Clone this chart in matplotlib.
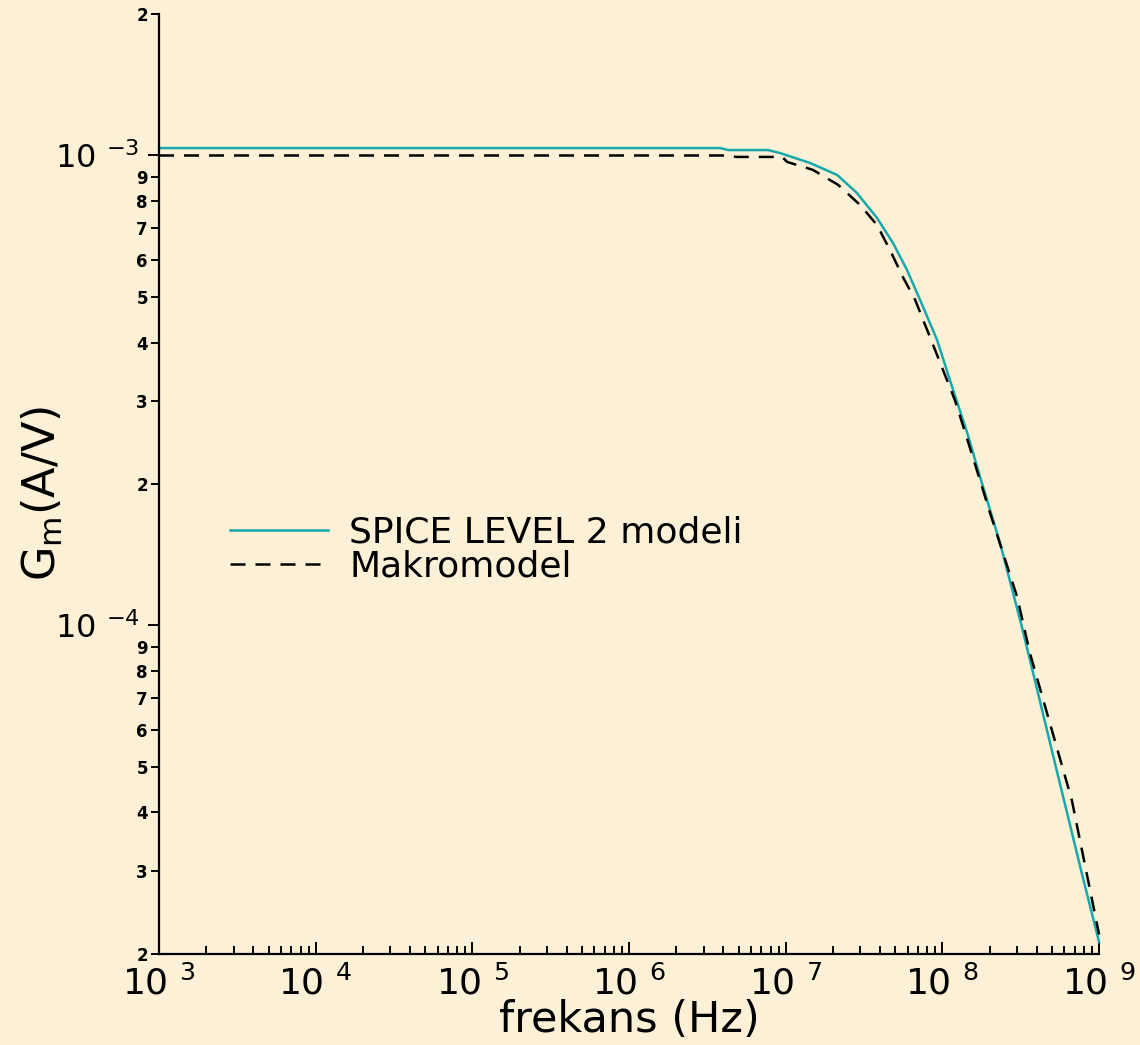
import matplotlib.pyplot as plt
from matplotlib.ticker import FixedLocator, FixedFormatter, NullFormatter

# SPICE LEVEL 2 model (cyan)
f_spice = [1e3, 3.8e6, 4.3e6, 7.7e6, 9.2e6, 1.43e7, 2.13e7, 2.85e7, 3.83e7,
           4.84e7, 5.94e7, 7.2e7, 9.25e7, 1.17e8, 1.44e8, 1.74e8, 2.33e8,
           3.2e8, 3.62e8, 5.3e8, 7.7e8, 1e9]
gm_spice = [1.037e-3, 1.037e-3, 1.027e-3, 1.027e-3, 1.012e-3, 0.964e-3,
            0.909e-3, 0.832e-3, 0.736e-3, 0.651e-3, 0.571e-3, 0.493e-3,
            0.405e-3, 0.317e-3, 0.257e-3, 2.07e-4, 1.5e-4, 1.0e-4, 8.45e-5,
            5.0e-5, 3.0e-5, 2.12e-5]

# macromodel (dashed)
f_makro = [1e3, 4.5e6, 4.8e6, 9.5e6, 1.02e7, 1.49e7, 2.16e7, 2.98e7, 3.83e7,
           4.63e7, 5.6e7, 6.7e7, 8.97e7, 1.2e8, 1.4e8, 2.01e8, 3e8, 3.62e8,
           6.7e8, 1e9]
gm_makro = [1.0e-3, 1.0e-3, 0.993e-3, 0.993e-3, 0.969e-3, 0.932e-3, 0.866e-3,
            0.785e-3, 0.711e-3, 0.629e-3, 0.551e-3, 0.493e-3, 0.386e-3,
            0.302e-3, 0.257e-3, 1.74e-4, 1.15e-4, 8.73e-5, 4.25e-5, 2.2e-5]

x_major = [1e3, 1e4, 1e5, 1e6, 1e7, 1e8, 1e9]
x_exps = [3, 4, 5, 6, 7, 8, 9]
y_major = [1e-4, 1e-3]
y_exps = [-4, -3]
y_minor = [2e-5, 3e-5, 4e-5, 5e-5, 6e-5, 7e-5, 8e-5, 9e-5,
           2e-4, 3e-4, 4e-4, 5e-4, 6e-4, 7e-4, 8e-4, 9e-4, 2e-3]
y_minor_lbl = ["2", "3", "4", "5", "6", "7", "8", "9",
               "2", "3", "4", "5", "6", "7", "8", "9", "2"]

bg = "#fcf1d7"
fig = plt.figure(figsize=(11.4, 10.45), dpi=100, facecolor=bg)
ax = fig.add_axes([0.1395, 0.0871, 0.8246, 0.8995])
ax.set_facecolor(bg)

ax.plot(f_spice, gm_spice, color="#17a8ab", lw=1.8, label="SPICE LEVEL 2 modeli",
        clip_on=False)
ax.plot(f_makro, gm_makro, color="black", lw=1.8, dashes=(6, 4), label="Makromodel",
        clip_on=False)

ax.set_xscale("log")
ax.set_yscale("log")
ax.set_xlim(1e3, 1e9)
ax.set_ylim(2e-5, 2e-3)

for s in ["top", "right"]:
    ax.spines[s].set_visible(False)
for s in ["left", "bottom"]:
    ax.spines[s].set_linewidth(1.6)

ax.xaxis.set_major_locator(FixedLocator(x_major))
ax.xaxis.set_major_formatter(FixedFormatter([f"10 $^{{{e}}}$" for e in x_exps]))
ax.xaxis.set_minor_locator(FixedLocator([m * 10 ** e for e in range(3, 9) for m in range(2, 10)]))
ax.xaxis.set_minor_formatter(NullFormatter())

ax.yaxis.set_major_locator(FixedLocator(y_major))
ax.yaxis.set_major_formatter(FixedFormatter([f"10 $^{{{e}}}$" for e in y_exps]))
ax.yaxis.set_minor_locator(FixedLocator(y_minor))
ax.yaxis.set_minor_formatter(FixedFormatter(y_minor_lbl))

ax.tick_params(axis="x", which="major", direction="in", length=9, width=1.4,
               labelsize=26, pad=8)
ax.tick_params(axis="x", which="minor", direction="in", length=6, width=1.4)
ax.tick_params(axis="y", which="major", direction="out", length=8, width=1.4,
               labelsize=23, pad=6)
ax.tick_params(axis="y", which="minor", direction="out", length=6, width=1.4,
               labelsize=12, pad=2)
for lbl in ax.get_yticklabels(minor=True):
    lbl.set_fontweight("bold")

ax.set_xlabel("frekans (Hz)", fontsize=31, labelpad=-2)
ax.set_ylabel(r"G$_\mathregular{m}$(A/V)", fontsize=32)
ax.yaxis.set_label_coords(-0.1, 0.49)

ax.legend(loc="upper left", bbox_to_anchor=(0.0755, 0.466), frameon=False,
          fontsize=26, handlelength=2.7, handletextpad=0.6, labelspacing=0.0,
          borderpad=0, borderaxespad=0)

fig.savefig("out.png", dpi=100, facecolor=bg)
